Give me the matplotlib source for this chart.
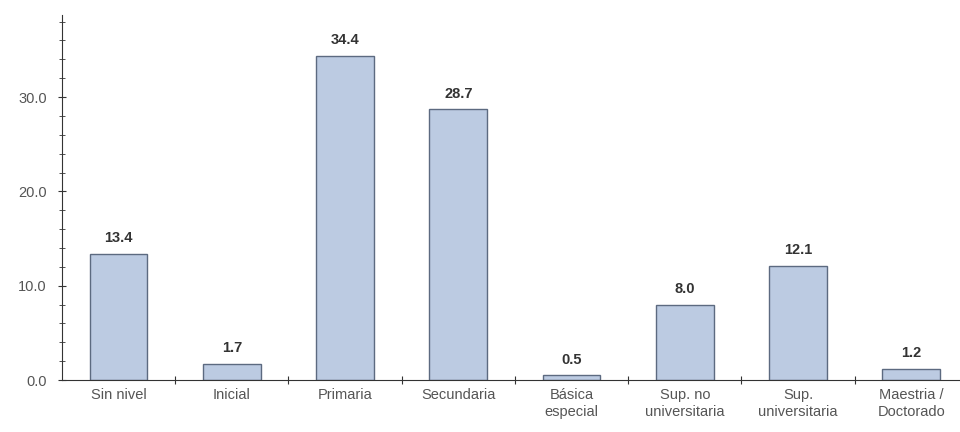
import numpy as np
from matplotlib import pyplot as plt
from matplotlib.ticker import MultipleLocator, FixedLocator, NullFormatter

categories = ["Sin nivel", "Inicial", "Primaria", "Secundaria", "Básica\nespecial",
              "Sup. no\nuniversitaria", "Sup.\nuniversitaria", "Maestria /\nDoctorado"]
values = [13.4, 1.7, 34.4, 28.7, 0.5, 8.0, 12.1, 1.2]

plt.rcParams["font.family"] = ["Liberation Sans", "DejaVu Sans"]

fig = plt.figure(figsize=(9.6, 4.32), dpi=100)
ax = fig.add_axes([62 / 960, 52 / 432, 898 / 960, 365 / 432])

x = np.arange(len(categories))
bars = ax.bar(x, values, width=0.51, color="#bccbe2", edgecolor="#5c6a80", linewidth=1.0)

for xi, v in zip(x, values):
    ax.text(xi, v + 0.9, f"{v:.1f}", ha="center", va="bottom",
            fontsize=10.5, fontweight="bold", color="#333333")

ax.set_xlim(-0.5, 7.43)
ax.set_ylim(0, 38.7)

for s in ["top", "right"]:
    ax.spines[s].set_visible(False)
ax.spines["left"].set_color("#333333")
ax.spines["bottom"].set_color("#333333")

ax.yaxis.set_major_locator(MultipleLocator(10))
ax.yaxis.set_minor_locator(MultipleLocator(2))
ax.yaxis.set_major_formatter(plt.FuncFormatter(lambda v, p: f"{v:.1f}"))
ax.tick_params(axis="y", which="major", direction="inout", length=6, labelsize=10.5,
               labelcolor="#555555", color="#333333", pad=8)
ax.tick_params(axis="y", which="minor", direction="inout", length=4, color="#333333")

ax.xaxis.set_major_locator(FixedLocator(x[:-1] + 0.5))
ax.xaxis.set_major_formatter(NullFormatter())
ax.xaxis.set_minor_locator(FixedLocator(x))
ax.set_xticklabels(categories, minor=True)
ax.tick_params(axis="x", which="major", direction="inout", length=6, color="#333333")
ax.tick_params(axis="x", which="minor", length=0, labelsize=10.5, labelcolor="#555555", pad=6)

fig.savefig("out.png", dpi=100)
